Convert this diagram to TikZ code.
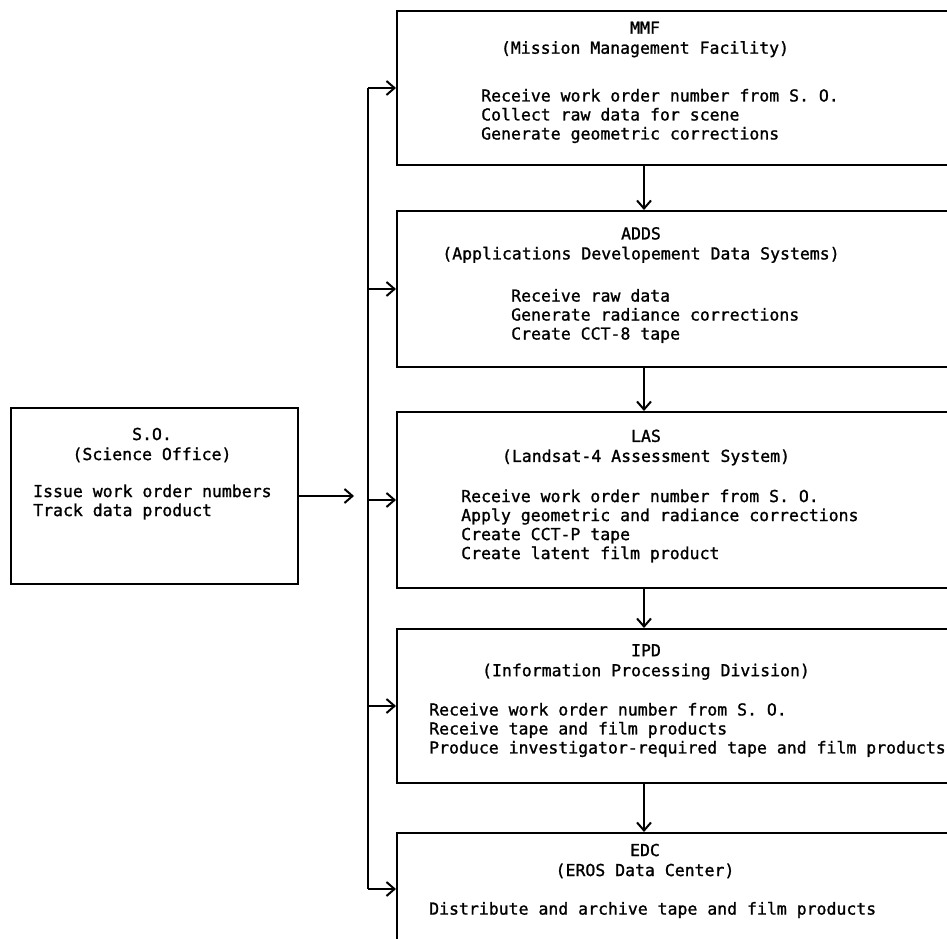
\documentclass[tikz,border=0pt]{standalone}
\usepackage{fontspec}
\usepackage{tikz}
\usetikzlibrary{arrows.meta,positioning,calc}
\newfontfamily\sheetfont[FakeBold=1.2]{DejaVu Sans Mono}

\begin{document}
\begin{tikzpicture}[x=1pt, y=1pt,
  every node/.style={font=\sheetfont\frenchspacing\fontsize{16.5}{19}\selectfont, inner sep=0pt},
  unit/.style={draw, line width=2pt, minimum width=564pt, anchor=north west},
  heading/.style={align=center, font=\sheetfont\frenchspacing\fontsize{16.5}{20}\selectfont},
  duty/.style={align=left, anchor=west},
  flow/.style={line width=2pt, -{Straight Barb[length=8pt, width=14pt]}}]
\useasboundingbox (0,0) rectangle (947,938);
% boxes
\node[unit, minimum height=154pt] (mmf) at (396,928) {};
\node[unit, minimum height=156pt, below=44pt of mmf.south west, anchor=north west] (adds) {};
\node[unit, minimum height=176pt, below=43pt of adds.south west, anchor=north west] (las) {};
\node[unit, minimum height=154pt, below=39pt of las.south west, anchor=north west] (ipd) {};
\node[unit, minimum height=112pt, below=48pt of ipd.south west, anchor=north west] (edc) {};
\node[draw, line width=2pt, minimum width=287pt, minimum height=176pt, anchor=north west] (so) at (10,531) {};
\coordinate (col) at (644,0);
\coordinate (bus) at (368,0);
% texts
\node[heading] (mmfT) at (645,898.5) {MMF\\(Mission Management Facility)};
\node[duty] (mmfD) at (481,822) {Receive work order number from S. O.\\Collect raw data for scene\\Generate geometric corrections};
\node[heading] (addsT) at (641,693) {ADDS\\(Applications Developement Data Systems)};
\node[duty] (addsD) at (511,622) {Receive raw data\\Generate radiance corrections\\Create CCT-8 tape};
\node[heading] (lasT) at (646,490.5) {LAS\\(Landsat-4 Assessment System)};
\node[duty] (lasD) at (461,412) {Receive work order number from S. O.\\Apply geometric and radiance corrections\\Create CCT-P tape\\Create latent film product};
\node[heading] (ipdT) at (646,276) {IPD\\(Information Processing Division)};
\node[duty] (ipdD) at (429,208) {Receive work order number from S. O.\\Receive tape and film products\\Produce investigator-required tape and film products};
\node[heading] (edcT) at (645,77) {EDC\\(EROS Data Center)};
\node[duty] (edcD) at (429,28) {Distribute and archive tape and film products};
\node[heading] (soT) at (152,493) {S.O.\\(Science Office)};
\node[duty] (soD) at (33,436) {Issue work order numbers\\Track data product};
% connectors
\draw[flow] (mmf.south -| col) -- (adds.north -| col);
\draw[flow] (adds.south -| col) -- (las.north -| col);
\draw[flow] (las.south -| col) -- (ipd.north -| col);
\draw[flow] (ipd.south -| col) -- (edc.north -| col);
\draw[line width=2pt] (mmf.west -| bus) -- (edc.west -| bus);
\foreach \b in {mmf,adds,las,ipd,edc}
  \draw[flow] (\b.west -| bus) -- (\b.west);
\coordinate[right=55pt of so.east] (soend);
\draw[flow] (so.east) -- (soend);
\end{tikzpicture}
\end{document}
